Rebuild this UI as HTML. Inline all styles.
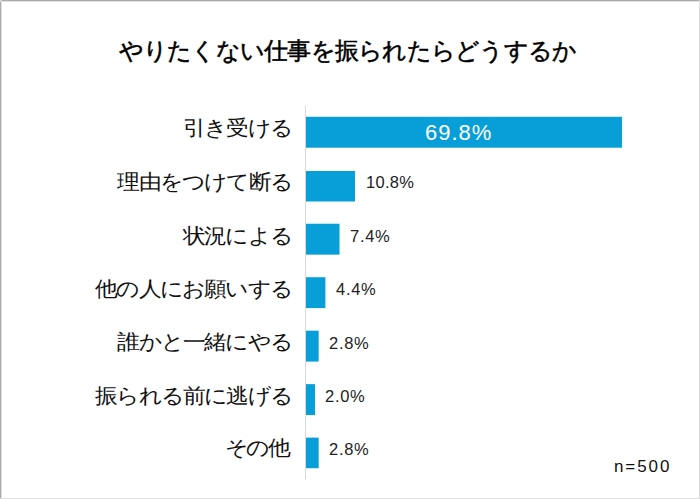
<!DOCTYPE html>
<html><head><meta charset="utf-8">
<style>
html,body{margin:0;padding:0;}
body{width:700px;height:499px;position:relative;overflow:hidden;background:#fff;font-family:"Liberation Sans",sans-serif;color:#000;}
.bl{position:absolute;left:0;top:2px;width:1px;height:497px;background:#a9a9a9;}
.bt{position:absolute;left:2px;top:0;width:698px;height:1px;background:#a9a9a9;}
.bl2{position:absolute;left:1px;top:0;width:1px;height:499px;background:#e2e2e2;}
.bt2{position:absolute;left:0;top:1px;width:700px;height:1px;background:#e2e2e2;}
.bc{position:absolute;left:0;top:0;width:2px;height:1px;background:#d4d4d4;}
.bc2{position:absolute;left:0;top:0;width:1px;height:2px;background:#d4d4d4;}
.br{position:absolute;right:0;top:0;width:1px;height:499px;background:#dcdcdc;}
.bb{position:absolute;left:0;bottom:0;width:700px;height:1px;background:#dcdcdc;}
.title{position:absolute;left:-2.5px;-webkit-text-stroke:0.5px #000;width:700px;top:36px;text-align:center;font-size:24px;letter-spacing:-0.75px;line-height:30px;white-space:nowrap;}
.lab{position:absolute;right:408px;transform:scaleY(0.92);font-size:23px;letter-spacing:-1.8px;line-height:30px;white-space:nowrap;text-align:right;color:#111;}
.val{position:absolute;font-size:16.5px;line-height:20px;white-space:nowrap;color:#222;letter-spacing:0.7px;}
.big{position:absolute;font-size:22px;line-height:24px;color:#fff;letter-spacing:1.0px;white-space:nowrap;}
.n{position:absolute;left:614px;top:457px;font-size:17px;line-height:20px;letter-spacing:1.9px;color:#111;}
</style></head><body>
<div class="bl2"></div><div class="bt2"></div><div class="bl"></div><div class="bt"></div><div class="bc"></div><div class="bc2"></div><div class="br"></div><div class="bb"></div>
<svg style="position:absolute;left:0;top:0" width="700" height="499" viewBox="0 0 700 499">
<rect x="305" y="106" width="1" height="373" fill="#d9d9d9"/>
<rect x="306" y="116.80" width="315.98" height="30.9" fill="#089fd8"/>
<rect x="306" y="171" width="49" height="30.5" fill="#089fd8"/>
<rect x="306" y="223.74" width="33.50" height="30.9" fill="#089fd8"/>
<rect x="306" y="277.21" width="19.4" height="30.9" fill="#089fd8"/>
<rect x="306" y="330.68" width="12.68" height="30.9" fill="#089fd8"/>
<rect x="306" y="384.15" width="9.05" height="30.9" fill="#089fd8"/>
<rect x="306" y="437.62" width="12.68" height="30.6" fill="#089fd8"/>
</svg>
<div class="title">やりたくない仕事を振られたらどうするか</div>
<div class="lab" style="top:113px;">引き受ける</div>
<div class="lab" style="top:167px;">理由をつけて断る</div>
<div class="lab" style="top:221px;">状況による</div>
<div class="lab" style="top:274px;">他の人にお願いする</div>
<div class="lab" style="top:327px;">誰かと一緒にやる</div>
<div class="lab" style="top:381px;">振られる前に逃げる</div>
<div class="lab" style="top:433px;right:412px;letter-spacing:-2.6px;">その他</div>

<div class="big" style="left:425px;top:121px;">69.8%</div>
<div class="val" style="left:366px;top:172px;letter-spacing:0.3px;">10.8%</div>
<div class="val" style="left:350px;top:226px;">7.4%</div>
<div class="val" style="left:336px;top:279px;">4.4%</div>
<div class="val" style="left:329px;top:333px;">2.8%</div>
<div class="val" style="left:325px;top:386px;">2.0%</div>
<div class="val" style="left:329px;top:439px;">2.8%</div>
<div class="n">n=500</div>
</body></html>
